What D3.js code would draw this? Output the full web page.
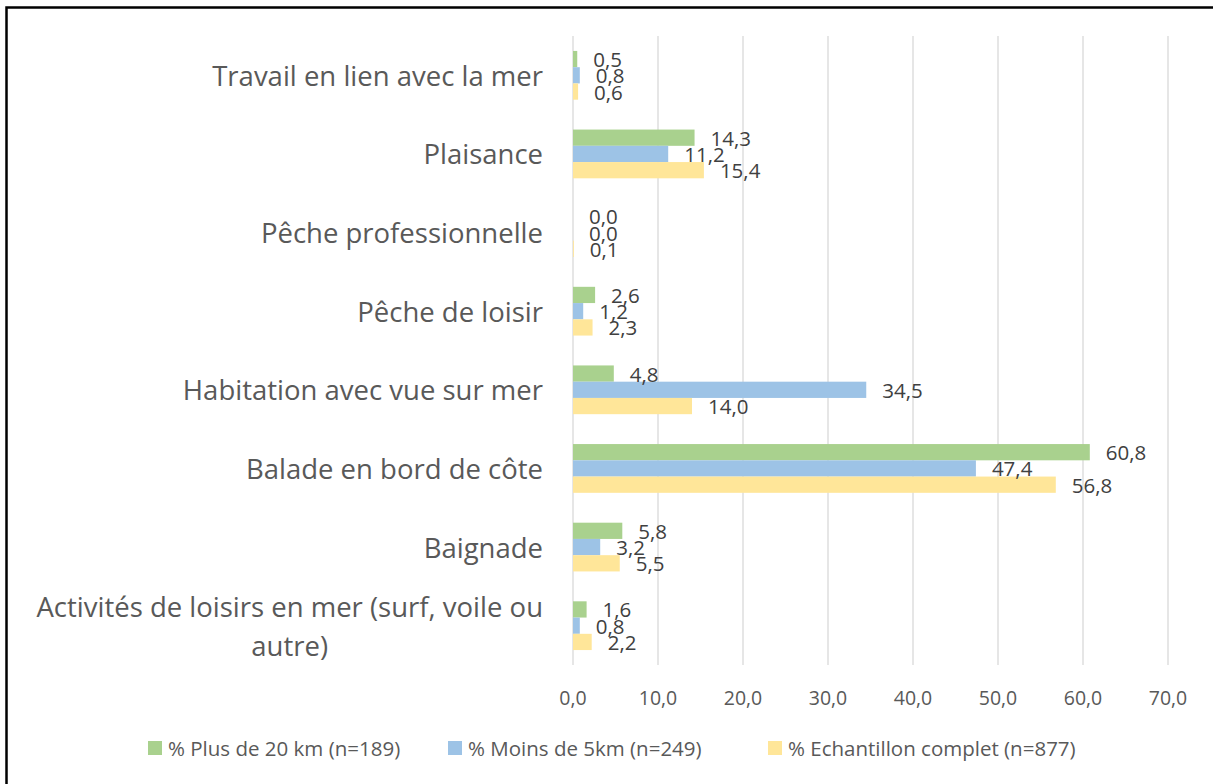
<!DOCTYPE html>
<html>
<head>
<meta charset="utf-8">
<script src="https://cdn.jsdelivr.net/npm/d3@7"></script>
<style>
  body { margin: 0; background: #fff; }
  svg { display: block; font-family: "Open Sans", Lato, sans-serif; }
</style>
</head>
<body>
<svg id="chart" width="1213" height="784"></svg>
<script>
// categories, top to bottom
const categories = [
    "Travail en lien avec la mer",
    "Plaisance",
    "Pêche professionnelle",
    "Pêche de loisir",
    "Habitation avec vue sur mer",
    "Balade en bord de côte",
    "Baignade",
    "Activités de loisirs en mer (surf, voile ou autre)"
];

const seriesNames = [
    "% Plus de 20 km (n=189)",
    "% Moins de 5km (n=249)",
    "% Echantillon complet (n=877)"
];

const plus20 = [0.5, 14.3, 0.0, 2.6, 4.8, 60.8, 5.8, 1.6];
const moins5 = [0.8, 11.2, 0.0, 1.2, 34.5, 47.4, 3.2, 0.8];
const complet = [0.6, 15.4, 0.1, 2.3, 14.0, 56.8, 5.5, 2.2];

const xTicks = [0, 10, 20, 30, 40, 50, 60, 70];

const seriesValues = [plus20, moins5, complet];
const colors = ["#a9d18e", "#9dc3e6", "#ffe699"];

const svg = d3.select("#chart");

// outer frame
svg.append("rect")
    .attr("x", 6.5)
    .attr("y", 7.5)
    .attr("width", 1240)
    .attr("height", 820)
    .attr("fill", "none")
    .attr("stroke", "#000")
    .attr("stroke-width", 2.5);

const plotTop = 36, plotBottom = 665;
const x = d3.scaleLinear().domain([0, 70]).range([573, 1168]);
const y = d3.scaleBand().domain(categories).range([plotTop, plotBottom]);
const inner = d3.scaleBand()
    .domain(d3.range(seriesNames.length))
    .range([0, y.bandwidth() * 0.62]);
const groupOffset = y.bandwidth() * 0.19;

const fmt = v => d3.format(".1f")(v).replace(".", ",");

// gridlines
svg.append("g")
    .selectAll("line")
    .data(xTicks)
    .join("line")
    .attr("x1", d => x(d))
    .attr("x2", d => x(d))
    .attr("y1", plotTop)
    .attr("y2", plotBottom)
    .attr("stroke", "#d9d9d9")
    .attr("stroke-width", 1.3);

// tick labels
svg.append("g")
    .selectAll("text")
    .data(xTicks)
    .join("text")
    .attr("x", d => x(d))
    .attr("y", 697)
    .attr("text-anchor", "middle")
    .attr("dominant-baseline", "central")
    .attr("fill", "#595959")
    .attr("font-size", 19.5)
    .text(fmt);

// bars
seriesValues.forEach((vals, s) => {
    svg.append("g")
        .selectAll("rect")
        .data(vals)
        .join("rect")
        .attr("x", x(0))
        .attr("y", (d, i) => y(categories[i]) + groupOffset + inner(s))
        .attr("width", d => x(d) - x(0))
        .attr("height", inner.bandwidth())
        .attr("fill", colors[s]);
});

// value labels on top of every bar
seriesValues.forEach((vals, s) => {
    svg.append("g")
        .selectAll("text")
        .data(vals)
        .join("text")
        .attr("x", d => x(d) + 16)
        .attr("y", (d, i) => y(categories[i]) + groupOffset + inner(s) + inner.bandwidth() / 2)
        .attr("dominant-baseline", "central")
        .attr("fill", "#404040")
        .attr("font-size", 20.5)
        .text(fmt);
});

// category labels, wrapped when too wide
const labelRight = 543, maxLabelWidth = 530, lineHeight = 39;
categories.forEach(cat => {
    const t = svg.append("text")
        .attr("fill", "#595959")
        .attr("font-size", 27.5)
        .attr("dominant-baseline", "central");
    const words = cat.split(" ");
    const lines = [];
    let line = [];
    const probe = t.append("tspan");
    words.forEach(w => {
        line.push(w);
        probe.text(line.join(" "));
        if (probe.node().getComputedTextLength() > maxLabelWidth && line.length > 1) {
            line.pop();
            lines.push(line.join(" "));
            line = [w];
        }
    });
    lines.push(line.join(" "));
    probe.remove();

    const cy = y(cat) + y.bandwidth() / 2;
    if (lines.length === 1) {
        t.attr("x", labelRight).attr("y", cy).attr("text-anchor", "end").text(lines[0]);
    } else {
        // measure widest line to center the block against the right edge
        const widths = lines.map(l => {
            const tmp = t.append("tspan").text(l);
            const w = tmp.node().getComputedTextLength();
            tmp.remove();
            return w;
        });
        const blockW = d3.max(widths);
        const cx = labelRight - blockW / 2;
        t.attr("text-anchor", "middle");
        lines.forEach((l, i) => {
            t.append("tspan")
                .attr("x", cx)
                .attr("y", cy + (i - (lines.length - 1) / 2) * lineHeight)
                .text(l);
        });
    }
});

// legend
const legendX = [148, 448, 768];
const legend = svg.append("g");
seriesNames.forEach((name, i) => {
    legend.append("rect")
        .attr("x", legendX[i])
        .attr("y", 741)
        .attr("width", 14)
        .attr("height", 14)
        .attr("fill", colors[i]);
    legend.append("text")
        .attr("x", legendX[i] + 20)
        .attr("y", 748)
        .attr("dominant-baseline", "central")
        .attr("fill", "#595959")
        .attr("font-size", 20.5)
        .text(name);
});
</script>
</body>
</html>
